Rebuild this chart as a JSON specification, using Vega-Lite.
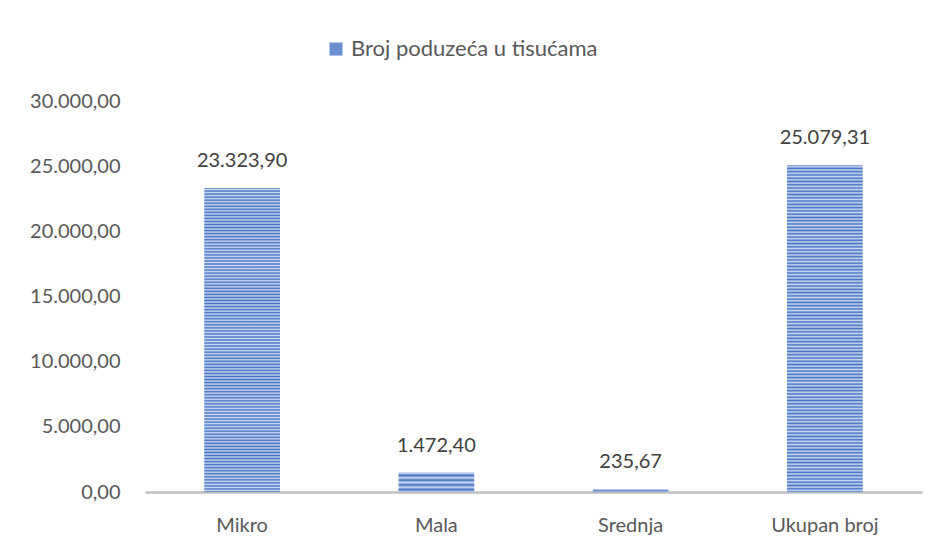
{
  "$schema": "https://vega.github.io/schema/vega-lite/v6.json",
  "width": 777,
  "height": 391,
  "autosize": {"type": "none"},
  "padding": {"left": 145, "top": 101, "right": 18, "bottom": 55},
  "background": "white",
  "config": {
    "view": {"stroke": null},
    "font": "Lato",
    "locale": {"number": {"decimal": ",", "thousands": ".", "grouping": [3], "currency": ["", " €"]}}
  },
  "data": {
    "values": [
      {"kategorija": "Mikro", "broj": 23323.90},
      {"kategorija": "Mala", "broj": 1472.40},
      {"kategorija": "Srednja", "broj": 235.67},
      {"kategorija": "Ukupan broj", "broj": 25079.31}
    ]
  },
  "encoding": {
    "x": {
      "field": "kategorija", "type": "nominal", "sort": null, "title": null,
      "scale": {"paddingInner": 0.61, "paddingOuter": 0.305},
      "axis": {"labelAngle": 0, "ticks": false, "domainColor": "#BFBFBF", "domainWidth": 2.5, "labelFontSize": 20, "labelColor": "#595959", "labelPadding": 23, "labelFont": "Lato"}
    },
    "y": {
      "field": "broj", "type": "quantitative", "title": null,
      "scale": {"domain": [0, 30000], "nice": false},
      "axis": {"values": [0, 5000, 10000, 15000, 20000, 25000, 30000], "format": ",.2f", "domain": false, "ticks": false, "grid": false, "labelFontSize": 20, "labelColor": "#595959", "labelPadding": 25, "labelFont": "Lato"}
    }
  },
  "layer": [
    {
      "mark": {
        "type": "bar",
        "fill": {
          "gradient": "linear", "x1": 0, "y1": 0, "x2": 0, "y2": 1,
          "stops": [
{"offset":0,"color":"#4472C4"},{"offset":0.005,"color":"#CCDAF0"},{"offset":0.01,"color":"#4472C4"},{"offset":0.015,"color":"#CCDAF0"},{"offset":0.02,"color":"#4472C4"},{"offset":0.025,"color":"#CCDAF0"},{"offset":0.03,"color":"#4472C4"},{"offset":0.035,"color":"#CCDAF0"},{"offset":0.04,"color":"#4472C4"},{"offset":0.045,"color":"#CCDAF0"},
{"offset":0.05,"color":"#4472C4"},{"offset":0.055,"color":"#CCDAF0"},{"offset":0.06,"color":"#4472C4"},{"offset":0.065,"color":"#CCDAF0"},{"offset":0.07,"color":"#4472C4"},{"offset":0.075,"color":"#CCDAF0"},{"offset":0.08,"color":"#4472C4"},{"offset":0.085,"color":"#CCDAF0"},{"offset":0.09,"color":"#4472C4"},{"offset":0.095,"color":"#CCDAF0"},
{"offset":0.1,"color":"#4472C4"},{"offset":0.105,"color":"#CCDAF0"},{"offset":0.11,"color":"#4472C4"},{"offset":0.115,"color":"#CCDAF0"},{"offset":0.12,"color":"#4472C4"},{"offset":0.125,"color":"#CCDAF0"},{"offset":0.13,"color":"#4472C4"},{"offset":0.135,"color":"#CCDAF0"},{"offset":0.14,"color":"#4472C4"},{"offset":0.145,"color":"#CCDAF0"},
{"offset":0.15,"color":"#4472C4"},{"offset":0.155,"color":"#CCDAF0"},{"offset":0.16,"color":"#4472C4"},{"offset":0.165,"color":"#CCDAF0"},{"offset":0.17,"color":"#4472C4"},{"offset":0.175,"color":"#CCDAF0"},{"offset":0.18,"color":"#4472C4"},{"offset":0.185,"color":"#CCDAF0"},{"offset":0.19,"color":"#4472C4"},{"offset":0.195,"color":"#CCDAF0"},
{"offset":0.2,"color":"#4472C4"},{"offset":0.205,"color":"#CCDAF0"},{"offset":0.21,"color":"#4472C4"},{"offset":0.215,"color":"#CCDAF0"},{"offset":0.22,"color":"#4472C4"},{"offset":0.225,"color":"#CCDAF0"},{"offset":0.23,"color":"#4472C4"},{"offset":0.235,"color":"#CCDAF0"},{"offset":0.24,"color":"#4472C4"},{"offset":0.245,"color":"#CCDAF0"},
{"offset":0.25,"color":"#4472C4"},{"offset":0.255,"color":"#CCDAF0"},{"offset":0.26,"color":"#4472C4"},{"offset":0.265,"color":"#CCDAF0"},{"offset":0.27,"color":"#4472C4"},{"offset":0.275,"color":"#CCDAF0"},{"offset":0.28,"color":"#4472C4"},{"offset":0.285,"color":"#CCDAF0"},{"offset":0.29,"color":"#4472C4"},{"offset":0.295,"color":"#CCDAF0"},
{"offset":0.3,"color":"#4472C4"},{"offset":0.305,"color":"#CCDAF0"},{"offset":0.31,"color":"#4472C4"},{"offset":0.315,"color":"#CCDAF0"},{"offset":0.32,"color":"#4472C4"},{"offset":0.325,"color":"#CCDAF0"},{"offset":0.33,"color":"#4472C4"},{"offset":0.335,"color":"#CCDAF0"},{"offset":0.34,"color":"#4472C4"},{"offset":0.345,"color":"#CCDAF0"},
{"offset":0.35,"color":"#4472C4"},{"offset":0.355,"color":"#CCDAF0"},{"offset":0.36,"color":"#4472C4"},{"offset":0.365,"color":"#CCDAF0"},{"offset":0.37,"color":"#4472C4"},{"offset":0.375,"color":"#CCDAF0"},{"offset":0.38,"color":"#4472C4"},{"offset":0.385,"color":"#CCDAF0"},{"offset":0.39,"color":"#4472C4"},{"offset":0.395,"color":"#CCDAF0"},
{"offset":0.4,"color":"#4472C4"},{"offset":0.405,"color":"#CCDAF0"},{"offset":0.41,"color":"#4472C4"},{"offset":0.415,"color":"#CCDAF0"},{"offset":0.42,"color":"#4472C4"},{"offset":0.425,"color":"#CCDAF0"},{"offset":0.43,"color":"#4472C4"},{"offset":0.435,"color":"#CCDAF0"},{"offset":0.44,"color":"#4472C4"},{"offset":0.445,"color":"#CCDAF0"},
{"offset":0.45,"color":"#4472C4"},{"offset":0.455,"color":"#CCDAF0"},{"offset":0.46,"color":"#4472C4"},{"offset":0.465,"color":"#CCDAF0"},{"offset":0.47,"color":"#4472C4"},{"offset":0.475,"color":"#CCDAF0"},{"offset":0.48,"color":"#4472C4"},{"offset":0.485,"color":"#CCDAF0"},{"offset":0.49,"color":"#4472C4"},{"offset":0.495,"color":"#CCDAF0"},
{"offset":0.5,"color":"#4472C4"},{"offset":0.505,"color":"#CCDAF0"},{"offset":0.51,"color":"#4472C4"},{"offset":0.515,"color":"#CCDAF0"},{"offset":0.52,"color":"#4472C4"},{"offset":0.525,"color":"#CCDAF0"},{"offset":0.53,"color":"#4472C4"},{"offset":0.535,"color":"#CCDAF0"},{"offset":0.54,"color":"#4472C4"},{"offset":0.545,"color":"#CCDAF0"},
{"offset":0.55,"color":"#4472C4"},{"offset":0.555,"color":"#CCDAF0"},{"offset":0.56,"color":"#4472C4"},{"offset":0.565,"color":"#CCDAF0"},{"offset":0.57,"color":"#4472C4"},{"offset":0.575,"color":"#CCDAF0"},{"offset":0.58,"color":"#4472C4"},{"offset":0.585,"color":"#CCDAF0"},{"offset":0.59,"color":"#4472C4"},{"offset":0.595,"color":"#CCDAF0"},
{"offset":0.6,"color":"#4472C4"},{"offset":0.605,"color":"#CCDAF0"},{"offset":0.61,"color":"#4472C4"},{"offset":0.615,"color":"#CCDAF0"},{"offset":0.62,"color":"#4472C4"},{"offset":0.625,"color":"#CCDAF0"},{"offset":0.63,"color":"#4472C4"},{"offset":0.635,"color":"#CCDAF0"},{"offset":0.64,"color":"#4472C4"},{"offset":0.645,"color":"#CCDAF0"},
{"offset":0.65,"color":"#4472C4"},{"offset":0.655,"color":"#CCDAF0"},{"offset":0.66,"color":"#4472C4"},{"offset":0.665,"color":"#CCDAF0"},{"offset":0.67,"color":"#4472C4"},{"offset":0.675,"color":"#CCDAF0"},{"offset":0.68,"color":"#4472C4"},{"offset":0.685,"color":"#CCDAF0"},{"offset":0.69,"color":"#4472C4"},{"offset":0.695,"color":"#CCDAF0"},
{"offset":0.7,"color":"#4472C4"},{"offset":0.705,"color":"#CCDAF0"},{"offset":0.71,"color":"#4472C4"},{"offset":0.715,"color":"#CCDAF0"},{"offset":0.72,"color":"#4472C4"},{"offset":0.725,"color":"#CCDAF0"},{"offset":0.73,"color":"#4472C4"},{"offset":0.735,"color":"#CCDAF0"},{"offset":0.74,"color":"#4472C4"},{"offset":0.745,"color":"#CCDAF0"},
{"offset":0.75,"color":"#4472C4"},{"offset":0.755,"color":"#CCDAF0"},{"offset":0.76,"color":"#4472C4"},{"offset":0.765,"color":"#CCDAF0"},{"offset":0.77,"color":"#4472C4"},{"offset":0.775,"color":"#CCDAF0"},{"offset":0.78,"color":"#4472C4"},{"offset":0.785,"color":"#CCDAF0"},{"offset":0.79,"color":"#4472C4"},{"offset":0.795,"color":"#CCDAF0"},
{"offset":0.8,"color":"#4472C4"},{"offset":0.805,"color":"#CCDAF0"},{"offset":0.81,"color":"#4472C4"},{"offset":0.815,"color":"#CCDAF0"},{"offset":0.82,"color":"#4472C4"},{"offset":0.825,"color":"#CCDAF0"},{"offset":0.83,"color":"#4472C4"},{"offset":0.835,"color":"#CCDAF0"},{"offset":0.84,"color":"#4472C4"},{"offset":0.845,"color":"#CCDAF0"},
{"offset":0.85,"color":"#4472C4"},{"offset":0.855,"color":"#CCDAF0"},{"offset":0.86,"color":"#4472C4"},{"offset":0.865,"color":"#CCDAF0"},{"offset":0.87,"color":"#4472C4"},{"offset":0.875,"color":"#CCDAF0"},{"offset":0.88,"color":"#4472C4"},{"offset":0.885,"color":"#CCDAF0"},{"offset":0.89,"color":"#4472C4"},{"offset":0.895,"color":"#CCDAF0"},
{"offset":0.9,"color":"#4472C4"},{"offset":0.905,"color":"#CCDAF0"},{"offset":0.91,"color":"#4472C4"},{"offset":0.915,"color":"#CCDAF0"},{"offset":0.92,"color":"#4472C4"},{"offset":0.925,"color":"#CCDAF0"},{"offset":0.93,"color":"#4472C4"},{"offset":0.935,"color":"#CCDAF0"},{"offset":0.94,"color":"#4472C4"},{"offset":0.945,"color":"#CCDAF0"},
{"offset":0.95,"color":"#4472C4"},{"offset":0.955,"color":"#CCDAF0"},{"offset":0.96,"color":"#4472C4"},{"offset":0.965,"color":"#CCDAF0"},{"offset":0.97,"color":"#4472C4"},{"offset":0.975,"color":"#CCDAF0"},{"offset":0.98,"color":"#4472C4"},{"offset":0.985,"color":"#CCDAF0"},{"offset":0.99,"color":"#4472C4"},{"offset":0.995,"color":"#CCDAF0"},
{"offset":1,"color":"#4472C4"}
          ]
        }
      }
    },
    {
      "mark": {"type": "square", "opacity": 0, "size": 1},
      "encoding": {
        "color": {
          "datum": "Broj poduzeća u tisućama",
          "scale": {"range": ["#6A8FD0"]},
          "legend": {
            "title": null, "orient": "none", "legendX": 180, "legendY": -63,
            "symbolType": "square", "symbolSize": 170, "symbolOpacity": 1, "symbolStrokeWidth": 0,
            "labelFontSize": 22, "labelColor": "#595959", "labelFont": "Lato", "labelOffset": 4, "labelLimit": 500
          }
        }
      }
    },
    {
      "mark": {"type": "text", "dy": -21, "baseline": "alphabetic", "fontSize": 20, "color": "#404040", "font": "Lato"},
      "encoding": {
        "text": {"field": "broj", "type": "quantitative", "format": ",.2f"}
      }
    }
  ]
}
